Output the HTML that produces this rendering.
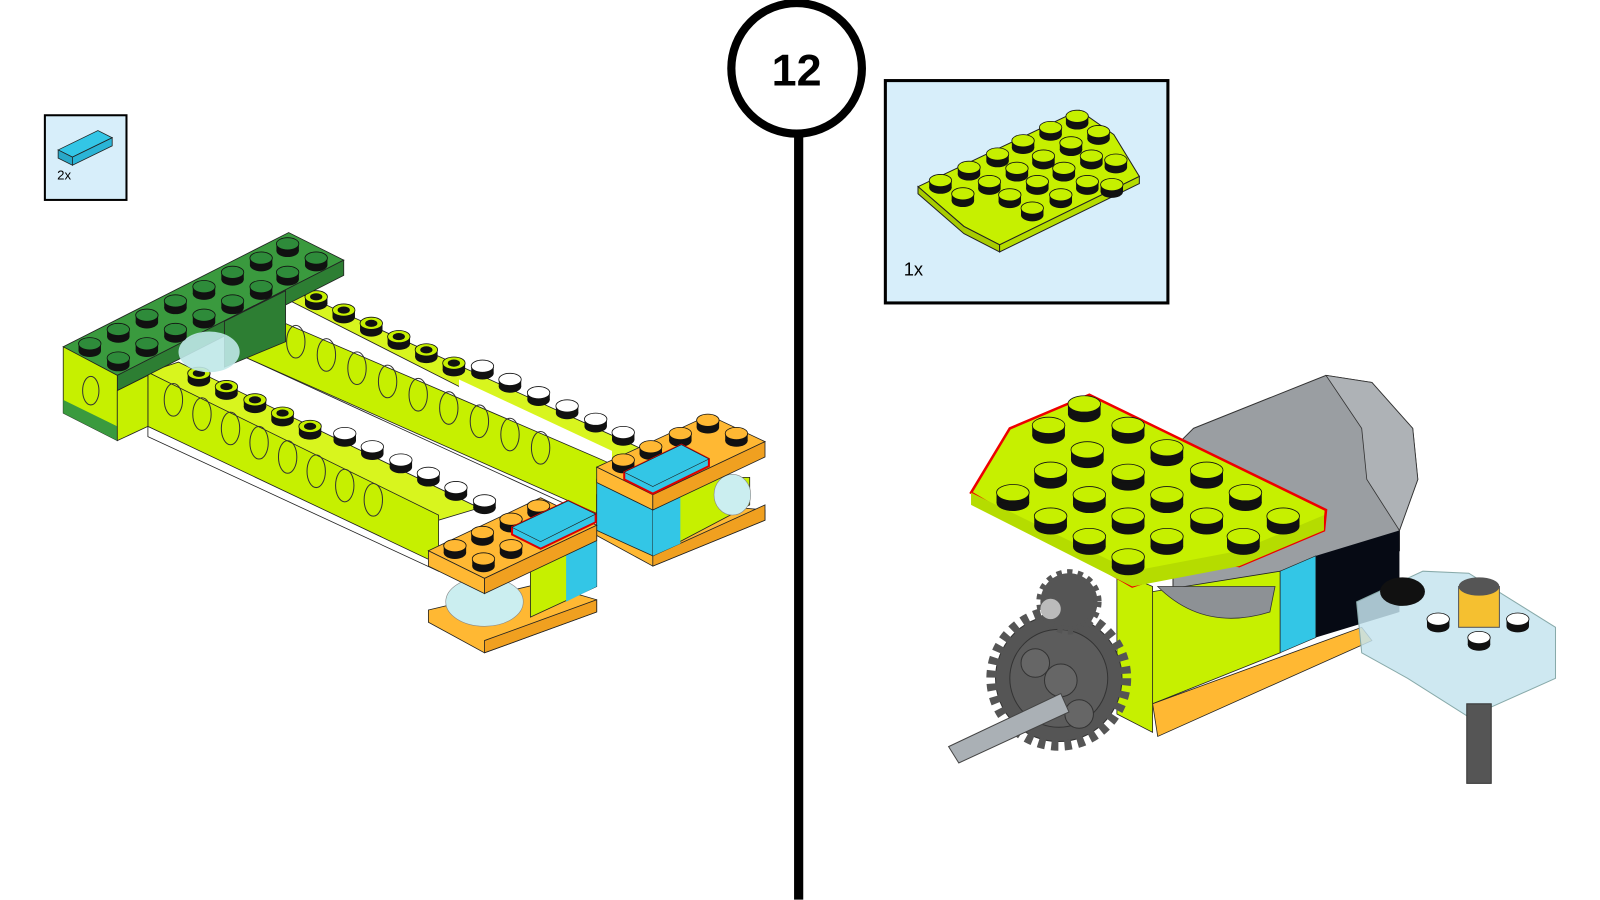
<!DOCTYPE html>
<html><head><meta charset="utf-8"><style>
html,body{margin:0;padding:0;background:#fff;width:1600px;height:900px;overflow:hidden}
svg{display:block}
</style></head><body>
<svg width="1600" height="900" viewBox="0 0 1600 900" xmlns="http://www.w3.org/2000/svg" font-family="Liberation Sans, sans-serif">
<defs>
<g id="sg"><ellipse cx="0" cy="4" rx="11" ry="6" fill="#111"/><rect x="-11" y="-3" width="22" height="7" fill="#111"/><ellipse cx="0" cy="-3" rx="11" ry="6" fill="#2e8b3a" stroke="#111" stroke-width="0.8"/></g>
<g id="sl"><ellipse cx="0" cy="4" rx="11" ry="6" fill="#111"/><rect x="-11" y="-3" width="22" height="7" fill="#111"/><ellipse cx="0" cy="-3" rx="11" ry="6" fill="#c6f000" stroke="#111" stroke-width="0.8"/><ellipse cx="0" cy="-3" rx="6" ry="3.5" fill="#111"/></g>
<g id="sp"><ellipse cx="0" cy="4" rx="11" ry="6" fill="#111"/><rect x="-11" y="-3" width="22" height="7" fill="#111"/><ellipse cx="0" cy="-3" rx="11" ry="6" fill="#c6f000" stroke="#111" stroke-width="0.8"/></g>
<g id="sw"><ellipse cx="0" cy="4" rx="11" ry="6" fill="#111"/><rect x="-11" y="-3" width="22" height="7" fill="#111"/><ellipse cx="0" cy="-3" rx="11" ry="6" fill="#fff" stroke="#111" stroke-width="0.8"/></g>
<g id="so"><ellipse cx="0" cy="4" rx="11" ry="6" fill="#111"/><rect x="-11" y="-3" width="22" height="7" fill="#111"/><ellipse cx="0" cy="-3" rx="11" ry="6" fill="#ffb833" stroke="#111" stroke-width="0.8"/></g>
<g id="sb"><ellipse cx="0" cy="6" rx="16" ry="8" fill="#111"/><rect x="-16" y="-4" width="32" height="10" fill="#111"/><ellipse cx="0" cy="-4" rx="16" ry="8" fill="#c6f000" stroke="#111" stroke-width="0.8"/></g>
</defs>
<g transform="scale(1.02)">
<line x1="783" y1="125" x2="783" y2="882" stroke="#000" stroke-width="9"/>
<circle cx="781" cy="67" r="64" fill="#fff" stroke="#000" stroke-width="8"/>
<text x="781" y="84" text-anchor="middle" font-size="44" font-weight="bold">12</text>

<rect x="44" y="113" width="80" height="83" fill="#d7eefa" stroke="#000" stroke-width="2"/>
<polygon points="57,147 96,128 110,135 71,154" fill="#33c6e6" stroke="#222" stroke-width="0.8"/>
<polygon points="57,147 71,154 71,162 57,155" fill="#29a8c8" stroke="#222" stroke-width="0.8"/>
<polygon points="71,154 110,135 110,143 71,162" fill="#2bb4d6" stroke="#222" stroke-width="0.8"/>
<text x="56" y="176" font-size="13">2x</text>

<rect x="868" y="79" width="277" height="218" fill="#d7eefa" stroke="#000" stroke-width="3"/>
<polygon points="900,183 1058,108 1092,132 1117,173 980,240 945,222" fill="#c6f000" stroke="#222"/>
<polygon points="900,183 945,222 980,240 980,247 945,229 900,190" fill="#a8cc00" stroke="#222"/>
<polygon points="980,240 1117,173 1117,180 980,247" fill="#b5dc00" stroke="#222"/>
<use href="#sp" x="922" y="180"/><use href="#sp" x="950" y="167"/><use href="#sp" x="978" y="154"/><use href="#sp" x="1003" y="141"/><use href="#sp" x="1030" y="128"/><use href="#sp" x="1056" y="117"/>
<use href="#sp" x="944" y="193"/><use href="#sp" x="970" y="181"/><use href="#sp" x="997" y="168"/><use href="#sp" x="1023" y="156"/><use href="#sp" x="1050" y="143"/><use href="#sp" x="1077" y="132"/>
<use href="#sp" x="990" y="194"/><use href="#sp" x="1017" y="181"/><use href="#sp" x="1043" y="168"/><use href="#sp" x="1070" y="156"/><use href="#sp" x="1094" y="160"/>
<use href="#sp" x="1012" y="207"/><use href="#sp" x="1040" y="194"/><use href="#sp" x="1066" y="181"/><use href="#sp" x="1090" y="184"/>
<text x="886" y="270" font-size="18">1x</text>

<polygon points="240,340 600,505 600,515 240,350" fill="#fff" stroke="#222" stroke-width="0.8"/>
<polygon points="265,285 300,290 640,445 600,455" fill="#d8f51e" stroke="#222" stroke-width="0.8"/>
<polygon points="240,300 600,455 600,510 240,350" fill="#c6f000" stroke="#222" stroke-width="0.8"/>
<polygon points="450,372 600,442 600,455 450,385" fill="#fff"/>
<g fill="none" stroke="#333" stroke-width="1">
<ellipse cx="290" cy="335" rx="9" ry="16"/><ellipse cx="320" cy="348" rx="9" ry="16"/><ellipse cx="350" cy="361" rx="9" ry="16"/><ellipse cx="380" cy="374" rx="9" ry="16"/><ellipse cx="410" cy="387" rx="9" ry="16"/><ellipse cx="440" cy="400" rx="9" ry="16"/><ellipse cx="470" cy="413" rx="9" ry="16"/><ellipse cx="500" cy="426" rx="9" ry="16"/><ellipse cx="530" cy="439" rx="9" ry="16"/></g>
<use href="#sl" x="310" y="294"/><use href="#sl" x="337" y="307"/><use href="#sl" x="364" y="320"/><use href="#sl" x="391" y="333"/><use href="#sl" x="418" y="346"/><use href="#sl" x="445" y="359"/>
<use href="#sw" x="473" y="362"/><use href="#sw" x="500" y="375"/><use href="#sw" x="528" y="388"/><use href="#sw" x="556" y="401"/><use href="#sw" x="584" y="414"/><use href="#sw" x="611" y="427"/>

<polygon points="145,418 430,550 430,560 145,428" fill="#fff" stroke="#222" stroke-width="0.8"/>
<polygon points="145,365 175,355 470,498 430,510" fill="#d8f51e" stroke="#222" stroke-width="0.8"/>
<polygon points="145,365 430,505 430,553 145,418" fill="#c6f000" stroke="#222" stroke-width="0.8"/>
<g fill="none" stroke="#333" stroke-width="1">
<ellipse cx="170" cy="392" rx="9" ry="16"/><ellipse cx="198" cy="406" rx="9" ry="16"/><ellipse cx="226" cy="420" rx="9" ry="16"/><ellipse cx="254" cy="434" rx="9" ry="16"/><ellipse cx="282" cy="448" rx="9" ry="16"/><ellipse cx="310" cy="462" rx="9" ry="16"/><ellipse cx="338" cy="476" rx="9" ry="16"/><ellipse cx="366" cy="490" rx="9" ry="16"/></g>
<use href="#sl" x="195" y="369"/><use href="#sl" x="222" y="382"/><use href="#sl" x="250" y="395"/><use href="#sl" x="277" y="408"/><use href="#sl" x="304" y="421"/>
<use href="#sw" x="338" y="428"/><use href="#sw" x="365" y="441"/><use href="#sw" x="393" y="454"/><use href="#sw" x="420" y="467"/><use href="#sw" x="447" y="481"/><use href="#sw" x="475" y="494"/>

<polygon points="62,340 283,228 337,255 115,368" fill="#3a9a3e" stroke="#222" stroke-width="0.8"/>
<polygon points="115,368 337,255 337,270 115,383" fill="#2d7e33" stroke="#222" stroke-width="0.8"/>
<polygon points="220,315 280,285 280,335 220,360" fill="#2d7e33" stroke="#222" stroke-width="0.8"/>
<ellipse cx="205" cy="345" rx="30" ry="20" fill="#bfe8e8" opacity="0.9"/>
<polygon points="62,340 115,368 115,432 62,405" fill="#c6f000" stroke="#222" stroke-width="0.8"/>
<polygon points="62,392 115,418 115,432 62,405" fill="#3a9a3e"/>
<polygon points="115,383 145,368 145,418 115,432" fill="#c6f000" stroke="#222" stroke-width="0.8"/>
<ellipse cx="89" cy="383" rx="8" ry="14" fill="none" stroke="#333"/>
<use href="#sg" x="88" y="340"/><use href="#sg" x="116" y="326"/><use href="#sg" x="144" y="312"/><use href="#sg" x="172" y="298"/><use href="#sg" x="200" y="284"/><use href="#sg" x="228" y="270"/><use href="#sg" x="256" y="256"/><use href="#sg" x="282" y="242"/>
<use href="#sg" x="116" y="354"/><use href="#sg" x="144" y="340"/><use href="#sg" x="172" y="326"/><use href="#sg" x="200" y="312"/><use href="#sg" x="228" y="298"/><use href="#sg" x="256" y="284"/><use href="#sg" x="282" y="270"/><use href="#sg" x="310" y="256"/>

<polygon points="585,485 750,500 750,510 640,555 585,525" fill="#ffb833" stroke="#222" stroke-width="0.8"/>
<polygon points="640,545 750,495 750,510 640,555" fill="#f0a020" stroke="#222" stroke-width="0.8"/>
<polygon points="585,470 640,497 640,545 585,520" fill="#33c6e6" stroke="#222" stroke-width="0.8"/>
<polygon points="640,497 700,468 735,468 735,495 640,545" fill="#c6f000" stroke="#222" stroke-width="0.8"/>
<polygon points="640,497 667,484 667,533 640,545" fill="#33c6e6"/>
<ellipse cx="718" cy="485" rx="18" ry="20" fill="#cbeef0" stroke="#888" stroke-width="0.6"/>
<polygon points="585,458 695,407 750,433 640,485" fill="#ffb833" stroke="#222" stroke-width="0.8"/>
<polygon points="585,458 640,485 640,500 585,473" fill="#ffb833" stroke="#222" stroke-width="0.8"/>
<polygon points="640,485 750,433 750,448 640,500" fill="#f0a020" stroke="#222" stroke-width="0.8"/>
<use href="#so" x="611" y="454"/><use href="#so" x="638" y="441"/><use href="#so" x="667" y="428"/><use href="#so" x="694" y="415"/><use href="#so" x="722" y="428"/>
<polygon points="612,463 668,436 695,450 695,457 640,484 612,470" fill="#33c6e6" stroke="#d00" stroke-width="2"/>
<polygon points="612,463 668,436 695,450 640,477" fill="#33c6e6" stroke="#222" stroke-width="0.6"/>

<polygon points="420,598 530,572 585,588 585,600 475,640 420,610" fill="#ffb833" stroke="#222" stroke-width="0.8"/>
<polygon points="475,628 585,588 585,600 475,640" fill="#f0a020" stroke="#222" stroke-width="0.8"/>
<ellipse cx="475" cy="590" rx="38" ry="24" fill="#cbeef0" stroke="#888" stroke-width="0.6"/>
<polygon points="520,555 585,525 585,575 520,605" fill="#c6f000" stroke="#222" stroke-width="0.8"/>
<polygon points="555,540 585,525 585,575 555,590" fill="#33c6e6"/>
<polygon points="420,540 530,488 585,515 475,567" fill="#ffb833" stroke="#222" stroke-width="0.8"/>
<polygon points="420,540 475,567 475,582 420,555" fill="#ffb833" stroke="#222" stroke-width="0.8"/>
<polygon points="475,567 585,515 585,530 475,582" fill="#f0a020" stroke="#222" stroke-width="0.8"/>
<use href="#so" x="446" y="538"/><use href="#so" x="473" y="525"/><use href="#so" x="501" y="512"/><use href="#so" x="528" y="499"/><use href="#so" x="474" y="551"/><use href="#so" x="501" y="538"/>
<polygon points="502,517 557,491 584,504 584,512 530,538 502,524" fill="#33c6e6" stroke="#d00" stroke-width="2"/>
<polygon points="502,517 557,491 584,504 530,531" fill="#33c6e6" stroke="#222" stroke-width="0.6"/>

<polygon points="1170,420 1300,368 1345,375 1385,420 1390,470 1372,520 1372,540 1300,575 1200,620 1150,600 1150,440" fill="#9a9ea2" stroke="#333"/>
<polygon points="1300,368 1345,375 1385,420 1390,470 1372,520 1340,470 1335,420" fill="#aeb2b6" stroke="#333" stroke-width="0.8"/>
<polygon points="1290,545 1372,520 1372,600 1290,625" fill="#060a14"/>
<polygon points="1255,560 1290,545 1290,625 1255,640" fill="#33c6e6" stroke="#222" stroke-width="0.6"/>
<polygon points="1130,580 1255,560 1255,640 1130,690" fill="#c6f000" stroke="#222" stroke-width="0.8"/>
<path d="M1135,575 Q1180,620 1245,600 L1250,575 Z" fill="#8d9195" stroke="#333" stroke-width="0.8"/>
<polygon points="1130,690 1335,615 1345,628 1135,722" fill="#ffb833" stroke="#222" stroke-width="0.8"/>
<polygon points="1095,560 1130,575 1130,718 1095,700" fill="#c6f000" stroke="#222" stroke-width="0.8"/>
<circle cx="1038" cy="665" r="62" fill="#555" stroke="#333" stroke-width="1"/>
<circle cx="1038" cy="665" r="66" fill="none" stroke="#555" stroke-width="10" stroke-dasharray="7 6"/>
<circle cx="1038" cy="665" r="48" fill="#5c5c5c" stroke="#333"/>
<circle cx="1040" cy="667" r="16" fill="#666" stroke="#333"/><circle cx="1015" cy="650" r="14" fill="#666" stroke="#333"/><circle cx="1058" cy="700" r="14" fill="#666" stroke="#333"/>
<circle cx="1048" cy="590" r="28" fill="#555" stroke="#555" stroke-width="8" stroke-dasharray="5 5"/>
<circle cx="1030" cy="597" r="10" fill="#bbb"/>
<polygon points="930,732 1040,680 1048,698 940,748" fill="#aab0b5" stroke="#444"/>
<polygon points="952,483 990,420 1068,387 1300,500 1298,520 1215,555 1185,550 1140,565 1110,575" fill="#c6f000" stroke="#e00" stroke-width="2.5"/>
<polygon points="952,483 1110,560 1215,540 1298,505 1298,520 1215,555 1110,575 952,495" fill="#b5dc00"/>
<use href="#sb" x="1063" y="400"/>
<use href="#sb" x="1028" y="421"/><use href="#sb" x="1106" y="421"/>
<use href="#sb" x="1066" y="445"/><use href="#sb" x="1144" y="443"/>
<use href="#sb" x="1030" y="465"/><use href="#sb" x="1106" y="467"/><use href="#sb" x="1183" y="465"/>
<use href="#sb" x="993" y="487"/><use href="#sb" x="1068" y="489"/><use href="#sb" x="1144" y="489"/><use href="#sb" x="1221" y="487"/>
<use href="#sb" x="1030" y="510"/><use href="#sb" x="1106" y="510"/><use href="#sb" x="1183" y="510"/><use href="#sb" x="1258" y="510"/>
<use href="#sb" x="1068" y="530"/><use href="#sb" x="1144" y="530"/><use href="#sb" x="1219" y="530"/>
<use href="#sb" x="1106" y="550"/>
<polygon points="1330,590 1395,560 1440,562 1525,615 1525,665 1440,703 1380,665 1335,640" fill="#c5e4ee" fill-opacity="0.85" stroke="#8aa" stroke-width="1"/>
<ellipse cx="1375" cy="580" rx="22" ry="14" fill="#111"/>
<use href="#sw" x="1410" y="610"/><use href="#sw" x="1488" y="610"/><use href="#sw" x="1450" y="628"/>
<rect x="1430" y="575" width="40" height="40" fill="#f5c030" stroke="#555"/>
<ellipse cx="1450" cy="575" rx="20" ry="9" fill="#555"/>
<rect x="1438" y="690" width="24" height="78" fill="#555" stroke="#333"/>
</g>
</svg>
</body></html>
